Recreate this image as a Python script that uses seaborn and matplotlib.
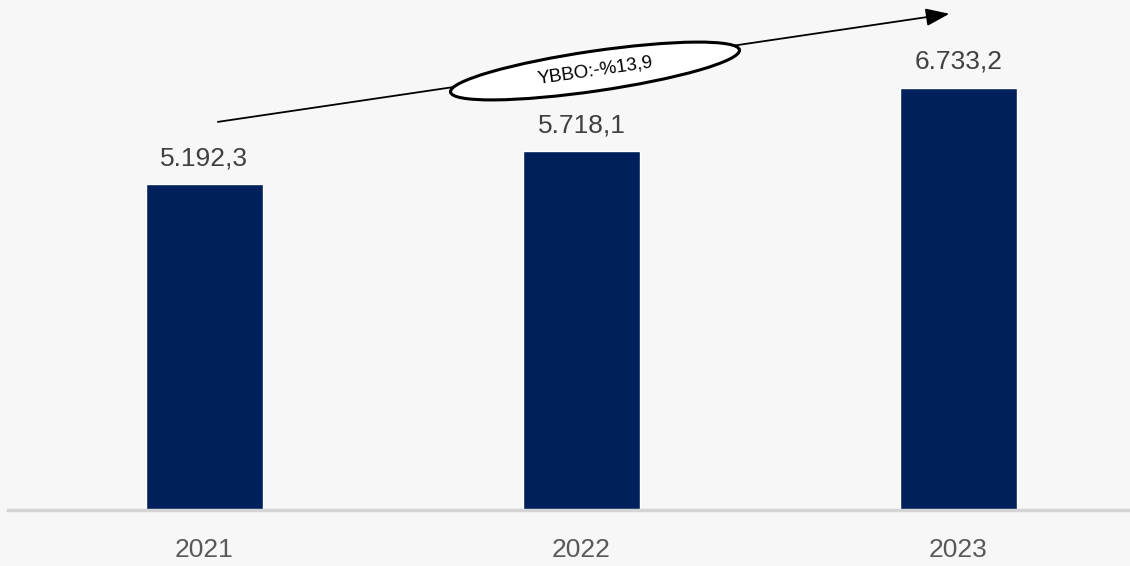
import matplotlib.pyplot as plt
import matplotlib.patches as mpatches
from matplotlib.transforms import IdentityTransform
import seaborn as sns
import pandas as pd

sns.set_theme(style="white")
plt.rcParams['font.family'] = ['Liberation Sans', 'DejaVu Sans']

years = ['2021', '2022', '2023']
values = [5192.3, 5718.1, 6733.2]
value_labels = ['5.192,3', '5.718,1', '6.733,2']
growth_text = 'YBBO:-%13,9'

bg = '#f7f7f7'
navy = '#00205b'

df = pd.DataFrame({'year': years, 'value': values})

fig = plt.figure(figsize=(11.3, 5.66), dpi=100, facecolor=bg)
ax = fig.add_axes([8 / 1130, 56 / 566, 1122 / 1130, 510 / 566], facecolor=bg)

sns.barplot(data=df, x='year', y='value', color=navy, width=0.31,
            saturation=1, ax=ax)

ax.set_xlim(-0.521, 2.455)
ax.set_ylim(0, 8130)

for i, (v, lab) in enumerate(zip(values, value_labels)):
    ax.annotate(lab, (i, v), xytext=(0, 10), textcoords='offset points',
                ha='center', va='bottom', fontsize=19, color='#404040')

for s in ['top', 'right', 'left']:
    ax.spines[s].set_visible(False)
ax.spines['bottom'].set_color('#d4d4d4')
ax.spines['bottom'].set_linewidth(2.5)
ax.set_yticks([])
ax.set_xlabel('')
ax.set_ylabel('')
ax.tick_params(axis='x', length=0, pad=20, labelsize=19, labelcolor='#595959')

# trend arrow with ellipse label
ax.annotate('', xy=(0.839, 0.973), xytext=(0.187, 0.761),
            xycoords='axes fraction', textcoords='axes fraction',
            arrowprops=dict(arrowstyle='-|>,head_length=1.2,head_width=0.45',
                            color='black', lw=1.3, shrinkA=0, shrinkB=0))

ell = mpatches.Ellipse((595, 566 - 71), 292, 40, angle=8.3,
                       transform=IdentityTransform(), facecolor='white',
                       edgecolor='black', lw=2.2, zorder=5)
fig.patches.append(ell)
fig.text(595 / 1130, (566 - 71) / 566, growth_text, rotation=8.3,
         ha='center', va='center', fontsize=13.5, color='black', zorder=6,
         rotation_mode='anchor')

fig.savefig('out.png', dpi=100, facecolor=bg)
